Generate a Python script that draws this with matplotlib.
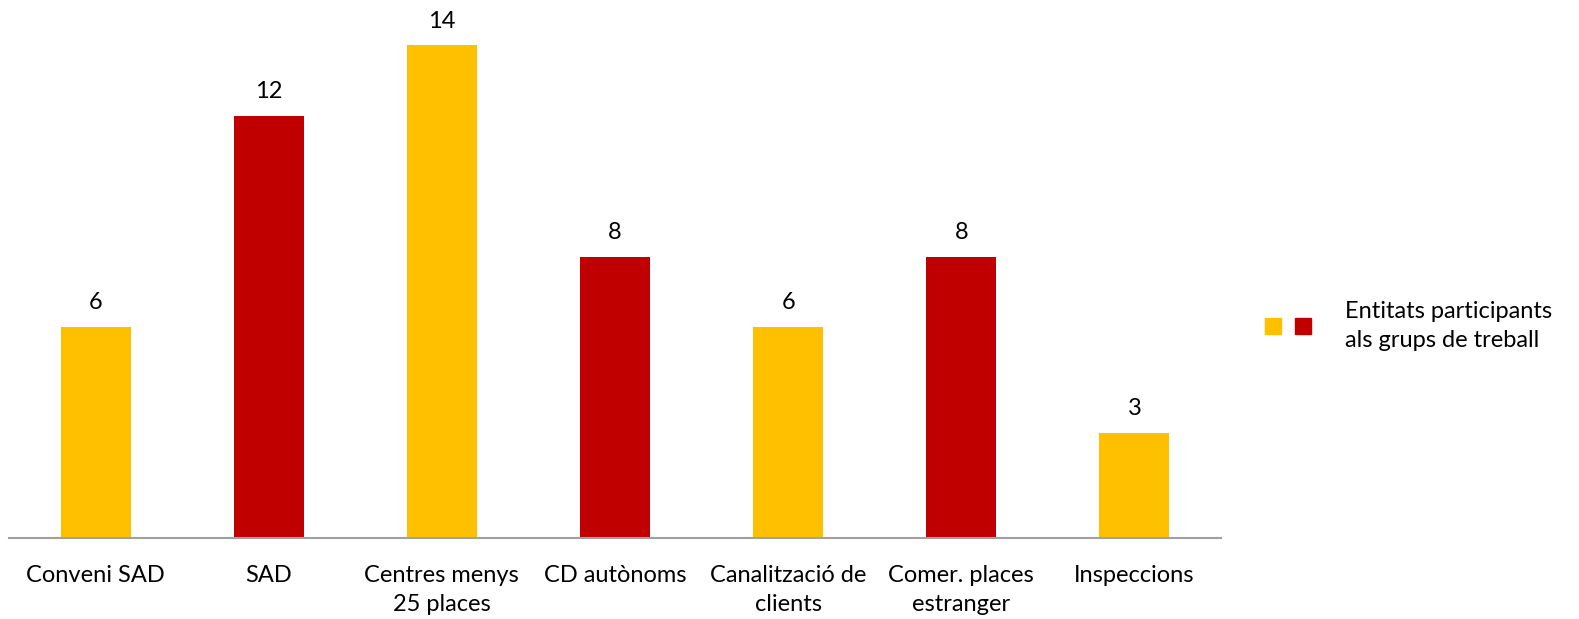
import matplotlib
matplotlib.use("Agg")
import matplotlib.pyplot as plt
from matplotlib.patches import Patch
from matplotlib.legend_handler import HandlerTuple

categories = ["Conveni SAD", "SAD", "Centres menys\n25 places", "CD autònoms",
              "Canalització de\nclients", "Comer. places\nestranger", "Inspeccions"]
values = [6, 12, 14, 8, 6, 8, 3]
series_name = "Entitats participants\nals grups de treball"
yellow = "#FFC000"
red = "#C00000"
bar_colors = [yellow, red, yellow, red, yellow, red, yellow]

plt.rcParams['font.family'] = ['Lato', 'DejaVu Sans']
FS = 17

W, H = 1579, 619
fig = plt.figure(figsize=(W / 100, H / 100), dpi=100)
ax_left, ax_right = 9, 1221
ax_bottom = 538.3
ax_top = 0
ax = fig.add_axes([ax_left / W, (H - ax_bottom) / H, (ax_right - ax_left) / W, (ax_bottom - ax_top) / H])

x = list(range(len(categories)))
bars = ax.bar(x, values, width=0.405, color=bar_colors)
ax.set_xlim(-0.5, len(categories) - 0.5)
ax.set_ylim(0, 538.3 / 35.2)

for xi, v in zip(x, values):
    ax.annotate(str(v), (xi, v), xytext=(0, 10), textcoords="offset points",
                ha="center", va="bottom", fontsize=FS, color="#000000")

for s in ["top", "right", "left"]:
    ax.spines[s].set_visible(False)
ax.spines["bottom"].set_color("#A0A0A0")
ax.spines["bottom"].set_linewidth(1.5)
ax.set_yticks([])
ax.set_xticks(x)
ax.set_xticklabels(categories, fontsize=FS, linespacing=1.5)
ax.tick_params(axis="x", length=0, pad=19)

handle = (Patch(color=yellow), Patch(color=red))
fs = FS * 100 / 72
leg = fig.legend([handle], [series_name], handler_map={tuple: HandlerTuple(ndivide=None, pad=14 / fs)},
                 loc="center left", bbox_to_anchor=(1265 / W, 1 - 326 / H), frameon=False,
                 fontsize=FS, handlelength=46 / fs, handleheight=16 / fs, handletextpad=34 / fs,
                 borderpad=0, borderaxespad=0)
for t in leg.get_texts():
    t.set_linespacing(1.45)

fig.savefig("out.png", dpi=100)
